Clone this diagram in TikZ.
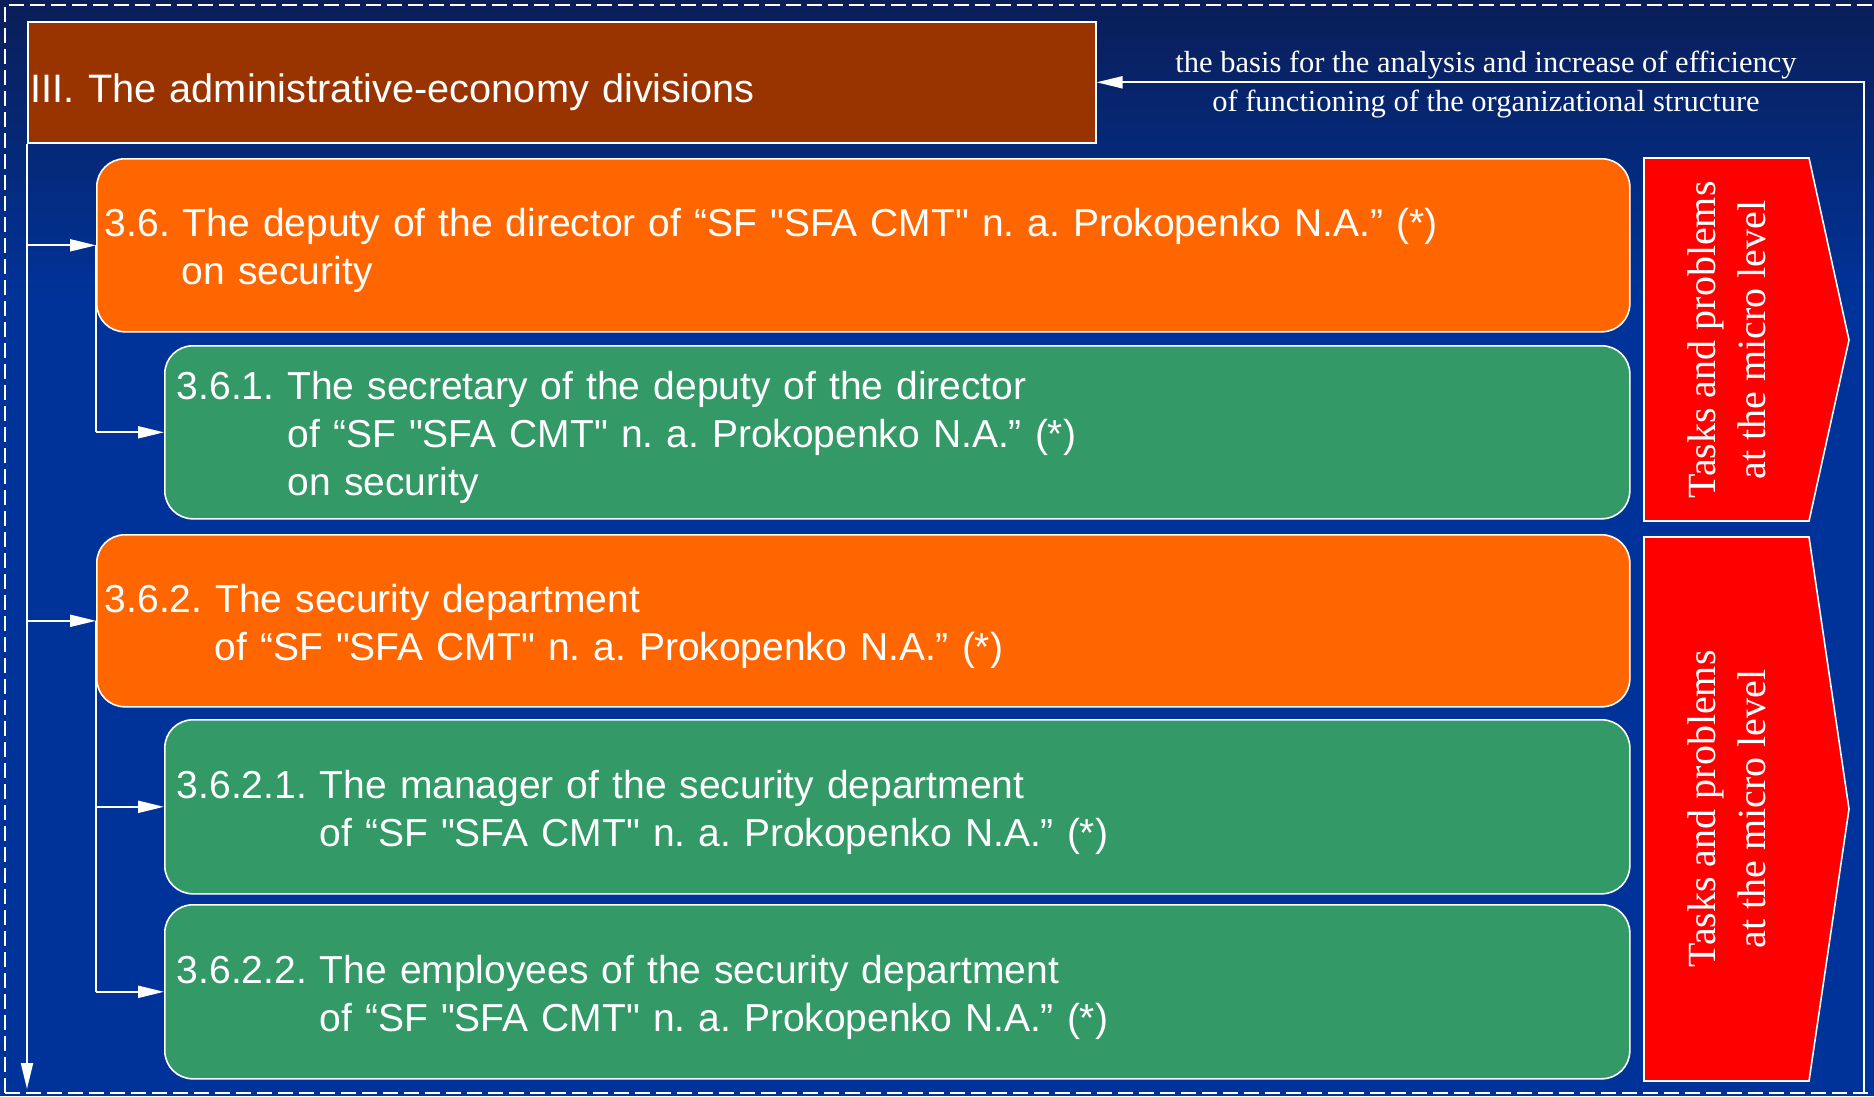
\documentclass[tikz,border=0pt]{standalone}
\usepackage{fontspec}
\setmainfont{Liberation Serif}
\newfontfamily\arialf{Liberation Sans}
\usetikzlibrary{arrows.meta}
\definecolor{bgblue}{HTML}{003399}
\definecolor{bgtop}{RGB}{10,30,88}
\definecolor{brownbox}{HTML}{993300}
\definecolor{orangebox}{HTML}{FF6600}
\definecolor{greenbox}{HTML}{339966}
\definecolor{redbox}{HTML}{FF0000}
\frenchspacing
\newcommand\topstrut{\rule{0pt}{39pt}}
\begin{document}
\begin{tikzpicture}[x=1pt,y=-1pt,
  box/.style={draw=white, line width=1.6pt, rounded corners=28pt, text=white,
    font=\arialf\fontsize{39}{48}\selectfont, align=left, anchor=north west, inner ysep=0pt},
  obox/.style={box, fill=orangebox, minimum width=1533pt, text width=1517pt, inner xsep=8pt},
  gbox/.style={box, fill=greenbox, minimum width=1465pt, text width=1441pt, inner xsep=12pt},
  wline/.style={draw=white, line width=2pt},
  conn/.style={wline, -{Triangle[length=26pt,width=12pt]}},
  redshape/.style={fill=redbox, draw=white, line width=1.6pt},
  redtext/.style={text=white, rotate=90, align=center, font=\fontsize{40}{50}\selectfont},
  fbtext/.style={text=white, align=center, font=\fontsize{30.5}{39}\selectfont}
]
\useasboundingbox (0,0) rectangle (1874,1096);
% background
\fill[top color=bgtop, bottom color=bgblue] (0,0) rectangle (1874,300);
\fill[bgblue] (0,299) rectangle (1874,1096);
% dashed frame
\draw[white, line width=1.6pt, dash pattern=on 15pt off 6pt] (5,1093) -- (5,5) -- (1880,5);
\draw[white, line width=1.6pt, dash pattern=on 15pt off 6pt] (5,1093) -- (1880,1093);

% header
\node[draw=white, line width=1.6pt, fill=brownbox, text=white, anchor=north west,
  minimum width=1068pt, minimum height=121pt, text width=1062pt, inner xsep=3pt, inner ysep=0pt,
  text height=41pt, text depth=0pt, align=left,
  font=\arialf\fontsize{39.7}{48}\selectfont] (b) at (27,21) {III. The administrative-economy divisions};

% boxes
\node[obox, minimum height=173pt] (o1) at (96,158)
  {\topstrut 3.6. The deputy of the director of “SF "SFA CMT" n. a. Prokopenko N.A.” (*)\\\hspace*{77pt}on security};
\node[gbox, minimum height=173pt] (g1) at (164,345)
  {\topstrut 3.6.1. The secretary of the deputy of the director\\\hspace*{111pt}of “SF "SFA CMT" n. a. Prokopenko N.A.” (*)\\\hspace*{111pt}on security};
\node[obox, minimum height=172pt] (o2) at (96,534)
  {\topstrut 3.6.2. The security department\\\hspace*{110pt}of “SF "SFA CMT" n. a. Prokopenko N.A.” (*)};
\node[gbox, minimum height=174pt] (g2) at (164,719)
  {\topstrut 3.6.2.1. The manager of the security department\\\hspace*{143pt}of “SF "SFA CMT" n. a. Prokopenko N.A.” (*)};
\node[gbox, minimum height=174pt] (g3) at (164,904)
  {\topstrut 3.6.2.2. The employees of the security department\\\hspace*{143pt}of “SF "SFA CMT" n. a. Prokopenko N.A.” (*)};

% red arrows
\draw[redshape] (1644,158) -- (1809,158) -- (1849,340) -- (1809,521) -- (1644,521) -- cycle;
\node[redtext] (r1) at (1727,340) {Tasks and problems\\at the micro level};
\draw[redshape] (1644,537) -- (1809,537) -- (1849,809) -- (1809,1081) -- (1644,1081) -- cycle;
\node[redtext] (r2) at (1727,809) {Tasks and problems\\at the micro level};

% trunk on the left
\coordinate (tend) at (27,1089);
\draw[conn] (b.south west) -- (tend);
\draw[conn] (b.south west |- o1.west) -- (o1.west);
\draw[conn] (b.south west |- o2.west) -- (o2.west);

% branches
\draw[wline] (o1.west) -- (o1.west |- g1.west);
\draw[conn] (o1.west |- g1.west) -- (g1.west);
\draw[wline] (o2.west) -- (o2.west |- g3.west);
\draw[conn] (o2.west |- g2.west) -- (g2.west);
\draw[conn] (o2.west |- g3.west) -- (g3.west);

% feedback
\coordinate (fbstart) at (1864,1093);
\draw[conn] (fbstart) |- (b.east);
\node[fbtext] (fb) at (1486,85) {the basis for the analysis and increase of efficiency\\of functioning of the organizational structure};
\end{tikzpicture}
\end{document}
